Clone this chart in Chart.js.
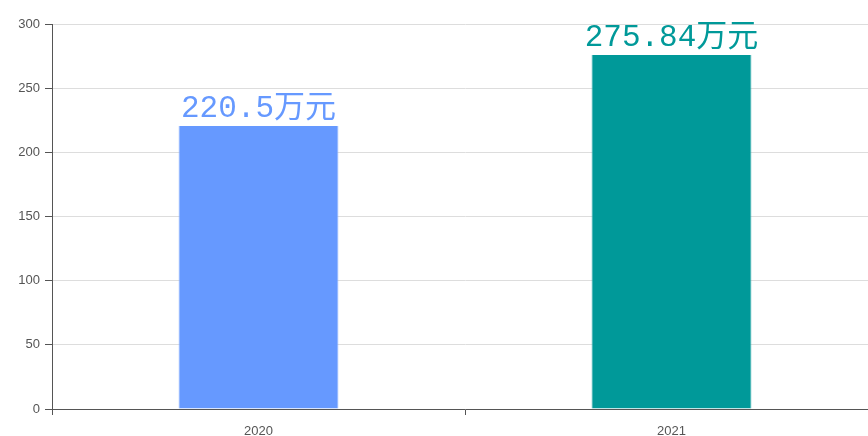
<!DOCTYPE html>
<html>
<head>
<meta charset="utf-8">
<script src="https://cdn.jsdelivr.net/npm/chart.js@4"></script>
<style>
  html, body { margin: 0; padding: 0; background: #fff; overflow: hidden; }
  #wrap { width: 868px; height: 436px; overflow: hidden; }
  #box { width: 878px; height: 436px; }
</style>
</head>
<body>
<div id="wrap"><div id="box"><canvas id="myChart"></canvas></div></div>
<script>
// data
const years = ['2020', '2021'];
const amounts = [220.5, 275.84];
const barColors = ['#6699ff', '#009999'];
const yTicks = [0, 50, 100, 150, 200, 250, 300];

// draws "xxx万元" above each bar in the bar colour
const valueLabels = {
    id: 'valueLabels',
    afterDatasetsDraw(chart) {
        const ctx = chart.ctx;
        const meta = chart.getDatasetMeta(0);
        ctx.save();
        ctx.font = '31px "Liberation Mono", "Noto Sans CJK SC", monospace';
        ctx.textAlign = 'center';
        ctx.textBaseline = 'bottom';
        meta.data.forEach((bar, i) => {
            ctx.fillStyle = barColors[i];
            ctx.fillText(amounts[i] + '万元', bar.x, bar.y - 2);
        });
        ctx.restore();
    }
};

const ctx = document.getElementById('myChart').getContext('2d');
const myChart = new Chart(ctx, {
    type: 'bar',
    data: {
        labels: years,
        datasets: [{
            data: amounts,
            backgroundColor: barColors,
            borderColor: ['#88b0ff', '#33aaaa'],
            borderWidth: { left: 1, right: 1, top: 0, bottom: 0 },
            barPercentage: 0.387,
            categoryPercentage: 1
        }]
    },
    options: {
        responsive: true,
        maintainAspectRatio: false,
        animation: false,
        layout: { padding: { top: 24, right: 0, left: 0, bottom: 0 } },
        plugins: {
            legend: { display: false },
            tooltip: { enabled: false }
        },
        scales: {
            x: {
                offset: true,
                grid: { drawOnChartArea: false, offset: true, tickLength: 6, tickColor: '#555' },
                border: { color: '#555' },
                ticks: { color: '#555', font: { family: 'Arial, "Liberation Sans"', size: 13 }, padding: 9 },
                afterFit(scale) { scale.height = 27; }
            },
            y: {
                min: 0,
                max: 300,
                afterBuildTicks(scale) { scale.ticks = yTicks.map(v => ({ value: v })); },
                grid: { color: '#dddddd', tickLength: 7, tickColor: '#555' },
                border: { color: '#555' },
                ticks: { color: '#555', font: { family: 'Arial, "Liberation Sans"', size: 13 }, padding: 5 },
                afterFit(scale) { scale.width = 52; }
            }
        }
    },
    plugins: [valueLabels]
});
</script>
</body>
</html>
